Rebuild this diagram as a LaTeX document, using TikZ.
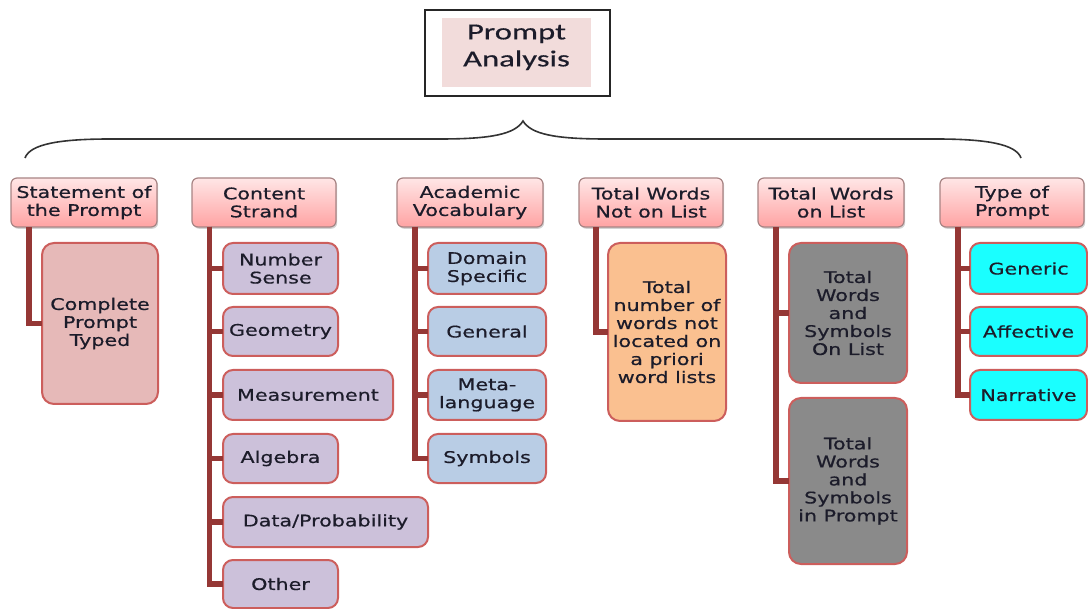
\documentclass[tikz,border=0pt]{standalone}
\usepackage{fontspec}
\usetikzlibrary{shadows}
\newfontfamily\nodefont{DejaVu Sans}[FakeStretch=1.29, FakeBold=0.6]
\newfontfamily\titlefont{Carlito}[FakeStretch=1.42, FakeBold=0.4]

\definecolor{ink}{HTML}{1C1C2A}
\definecolor{titlefill}{HTML}{F2DCDB}
\definecolor{headtop}{HTML}{FFE6E6}
\definecolor{headbot}{HTML}{FFA3A3}
\definecolor{headline}{HTML}{A88484}
\definecolor{leafline}{HTML}{CC5E5C}
\definecolor{connred}{HTML}{953735}
\definecolor{pinkfill}{HTML}{E6B9B8}
\definecolor{lavfill}{HTML}{CCC1DA}
\definecolor{bluefill}{HTML}{B9CDE5}
\definecolor{orangefill}{HTML}{FAC090}
\definecolor{grayfill}{HTML}{8A8A8A}
\definecolor{cyanfill}{HTML}{1AFFFF}

\tikzset{
  every node/.style={inner sep=0pt, outer sep=0pt},
  txt/.style={text=ink, align=center, font=\nodefont\fontsize{8}{9}\selectfont},
  headbox/.style={txt, draw=headline, line width=0.6pt, rounded corners=3pt,
    top color=headtop, bottom color=headbot,
    drop shadow={shadow xshift=0.6pt, shadow yshift=-0.9pt, opacity=0.35}},
  leafbox/.style={txt, draw=leafline, line width=1pt, rounded corners=5pt},
  conn/.style={draw=connred, line width=2.6pt, line join=miter},
  bracket/.style={draw=black!80, line width=0.8pt},
}

% \boxnode{style}{name}{x1}{y1}{x2}{y2}{text}: a node spanning the given corners
\newcommand\boxnode[7]{%
  \pgfmathsetmacro\bxw{(#5-(#3))/2}%
  \pgfmathsetmacro\bxh{(#6-(#4))/2}%
  \node[#1, minimum width=\bxw pt, minimum height=\bxh pt] (#2)
    at ({(#3+#5)/2},{(#4+#6)/2}) {#7};}

\begin{document}
\begin{tikzpicture}[x=0.5pt, y=-0.5pt]
\useasboundingbox (0,0) rectangle (1088,609);

% title box
\boxnode{draw=black!85, line width=1pt}{frame}{425}{10}{610}{96}{}
\boxnode{fill=titlefill, text=ink, align=center, text depth=7pt,
      font=\titlefont\fontsize{11.5}{13.5}\selectfont}{title}{442}{18}{591}{87}{Prompt\\Analysis}

% curly bracket under the title
\draw[bracket] (25,158) .. controls (30,144) and (60,139) .. (110,139)
  -- (440,139) .. controls (492,139) and (515,134) .. (523,121)
  .. controls (531,134) and (554,139) .. (606,139)
  -- (936,139) .. controls (986,139) and (1016,144) .. (1021,158);

% category headings
\boxnode{headbox}{stmt}{11}{178}{157}{227}{Statement of\\the Prompt}
\boxnode{headbox}{strand}{192}{178}{336}{227}{Content\\Strand}
\boxnode{headbox}{vocab}{397}{178}{543}{227}{Academic\\Vocabulary}
\boxnode{headbox}{notlist}{579}{178}{723}{227}{Total Words\\Not on List}
\boxnode{headbox}{onlist}{758}{178}{904}{227}{Total\ \ Words\\on List}
\boxnode{headbox}{ptype}{940}{178}{1084}{227}{Type of\\Prompt}

% statement of the prompt
\boxnode{leafbox, fill=pinkfill, rounded corners=6pt}{typed}{42}{243}{158}{404}{Complete\\Prompt\\Typed}

% content strand
\boxnode{leafbox, fill=lavfill}{number}{223}{243}{338}{294}{Number\\Sense}
\boxnode{leafbox, fill=lavfill}{geom}{223}{307}{338}{356}{Geometry}
\boxnode{leafbox, fill=lavfill}{meas}{223}{370}{393}{420}{Measurement}
\boxnode{leafbox, fill=lavfill}{alg}{223}{434}{338}{483}{Algebra}
\boxnode{leafbox, fill=lavfill}{data}{223}{497}{428}{547}{Data/Probability}
\boxnode{leafbox, fill=lavfill}{other}{223}{560}{338}{608}{Other}

% academic vocabulary
\boxnode{leafbox, fill=bluefill}{domain}{428}{243}{546}{294}{Domain\\Specific}
\boxnode{leafbox, fill=bluefill}{general}{428}{307}{546}{356}{General}
\boxnode{leafbox, fill=bluefill}{meta}{428}{370}{546}{420}{Meta-\\language}
\boxnode{leafbox, fill=bluefill}{symbols}{428}{434}{546}{483}{Symbols}

% words not on list
\boxnode{leafbox, fill=orangefill, rounded corners=6pt}{apriori}{608}{243}{726}{421}%
  {Total\\number of\\words not\\located on\\a priori\\word lists}

% words on list
\boxnode{leafbox, fill=grayfill, rounded corners=6pt}{symon}{789}{243}{907}{383}%
  {Total\\Words\\and\\Symbols\\On List}
\boxnode{leafbox, fill=grayfill, rounded corners=6pt}{symin}{789}{398}{907}{564}%
  {Total\\Words\\and\\Symbols\\in Prompt}

% type of prompt
\boxnode{leafbox, fill=cyanfill}{generic}{970}{243}{1087}{294}{Generic}
\boxnode{leafbox, fill=cyanfill}{affect}{970}{307}{1087}{356}{Affective}
\boxnode{leafbox, fill=cyanfill}{narr}{970}{370}{1087}{420}{Narrative}

% elbow connectors from each heading to its items
\draw[conn] ([xshift=9pt]stmt.south west) |- (typed.west);
\foreach \c in {number,geom,meas,alg,data,other}
  \draw[conn] ([xshift=8.75pt]strand.south west) |- (\c.west);
\foreach \c in {domain,general,meta,symbols}
  \draw[conn] ([xshift=9pt]vocab.south west) |- (\c.west);
\draw[conn] ([xshift=8.5pt]notlist.south west) |- (apriori.west);
\foreach \c in {symon,symin}
  \draw[conn] ([xshift=9pt]onlist.south west) |- (\c.west);
\foreach \c in {generic,affect,narr}
  \draw[conn] ([xshift=9pt]ptype.south west) |- (\c.west);
\end{tikzpicture}
\end{document}
